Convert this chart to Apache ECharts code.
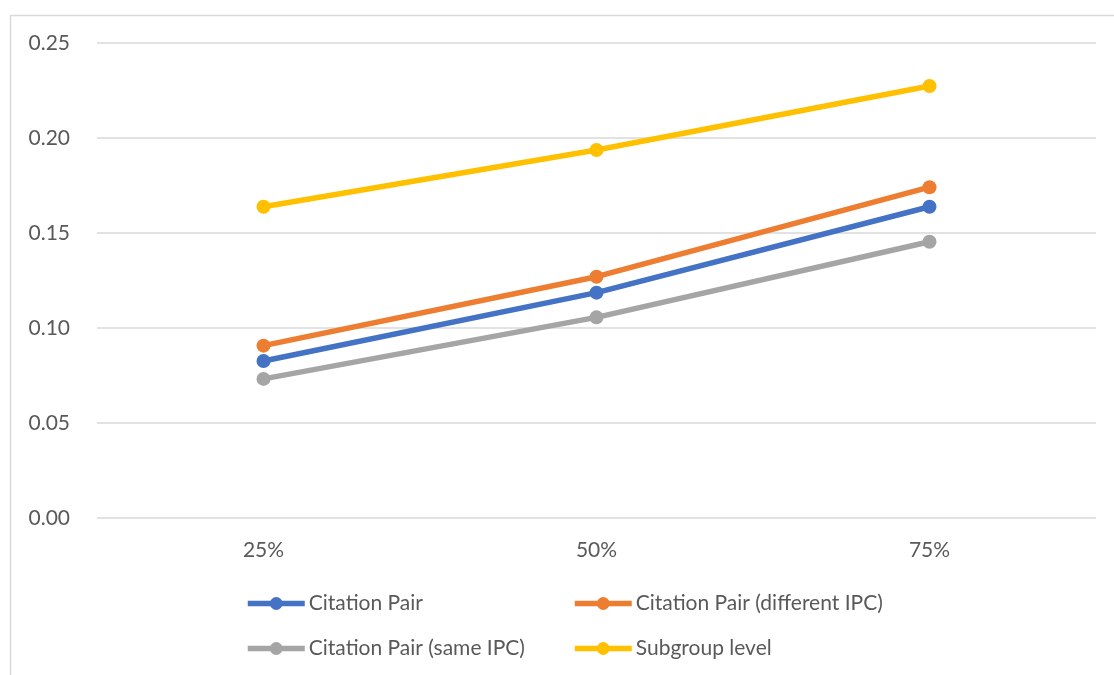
<!DOCTYPE html>
<html>
<head>
<meta charset="utf-8">
<style>
  html, body { margin: 0; padding: 0; background: #ffffff; }
  #chart { width: 1114px; height: 675px; }
</style>
<script src="https://cdn.jsdelivr.net/npm/echarts@6/dist/echarts.min.js"></script>
</head>
<body>
<div id="chart"></div>
<script>
// Percentile categories on the x axis
const categories = ['25%', '50%', '75%'];

// Series values
const citationPair = [0.0826, 0.1186, 0.1638];
const citationPairDiffIPC = [0.0907, 0.1270, 0.1741];
const citationPairSameIPC = [0.0732, 0.1056, 0.1454];
const subgroupLevel = [0.1638, 0.1937, 0.2274];

// Series names
const names = [
  'Citation Pair',
  'Citation Pair (different IPC)',
  'Citation Pair (same IPC)',
  'Subgroup level'
];

const textColor = '#595959';
const fontFamily = 'Lato, "Noto Sans", sans-serif';
const fontSize = 21;

function lineSeries(name, data, color) {
  return {
    name: name,
    type: 'line',
    data: data,
    symbol: 'circle',
    symbolSize: 14,
    lineStyle: { width: 5.5, color: color },
    itemStyle: { color: color },
    emphasis: { disabled: true },
    animation: false
  };
}

function legendBlock(left, items) {
  return {
    orient: 'vertical',
    left: left,
    top: 593,
    padding: 0,
    itemGap: 24,
    itemWidth: 57,
    itemHeight: 16,
    data: items,
    lineStyle: { width: 5.5 },
    textStyle: { color: textColor, fontSize: fontSize, fontFamily: fontFamily, padding: [0, 0, 0, -1] }
  };
}

const chart = echarts.init(document.getElementById('chart'), null, { renderer: 'canvas' });

chart.setOption({
  backgroundColor: '#ffffff',
  animation: false,
  graphic: [{
    type: 'rect',
    left: 8,
    top: 13,
    shape: { width: 1200, height: 800 },
    style: { fill: 'none', stroke: '#d9d9d9', lineWidth: 1.5 },
    silent: true,
    z: -1
  }],
  grid: { left: 97, right: 18, top: 43, bottom: 157 },
  xAxis: {
    type: 'category',
    data: categories,
    boundaryGap: true,
    axisLine: { show: false },
    axisTick: { show: false },
    axisLabel: { color: textColor, fontSize: fontSize, fontFamily: fontFamily, margin: 22 }
  },
  yAxis: {
    type: 'value',
    min: 0,
    max: 0.25,
    interval: 0.05,
    axisLine: { show: false },
    axisTick: { show: false },
    splitLine: { lineStyle: { color: '#d9d9d9', width: 1.5 } },
    axisLabel: {
      color: textColor, fontSize: fontSize, fontFamily: fontFamily, margin: 27,
      formatter: v => v.toFixed(2)
    }
  },
  legend: [
    legendBlock(245, [names[0], names[2]]),
    legendBlock(572, [names[1], names[3]])
  ],
  series: [
    lineSeries(names[0], citationPair, '#4472C4'),
    lineSeries(names[1], citationPairDiffIPC, '#ED7D31'),
    lineSeries(names[2], citationPairSameIPC, '#A5A5A5'),
    lineSeries(names[3], subgroupLevel, '#FFC000')
  ]
});
</script>
</body>
</html>
